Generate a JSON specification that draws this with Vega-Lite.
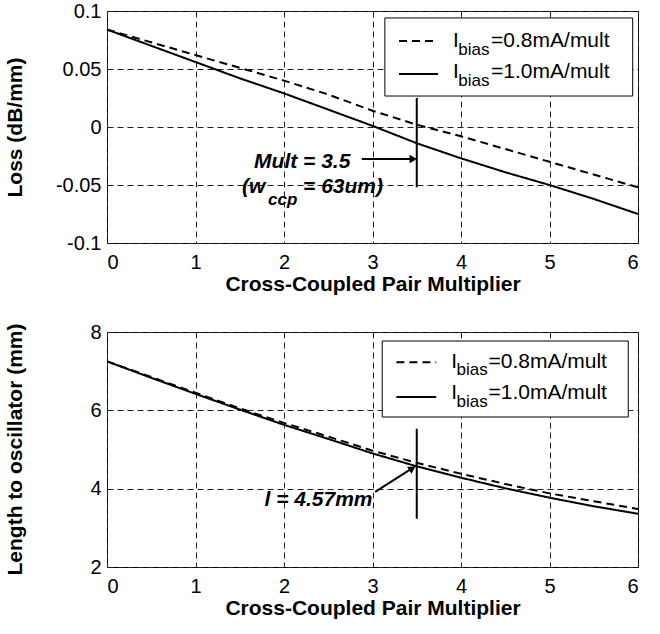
{
  "$schema": "https://vega.github.io/schema/vega-lite/v6.json",
  "padding": {"left": 3, "top": 0, "right": 5, "bottom": 2},
  "config": {
    "font": "Arial, Liberation Sans, sans-serif",
    "view": {"stroke": "black", "strokeWidth": 1},
    "text": {"font": "Arial, Liberation Sans, sans-serif"},
    "axis": {
      "labelFont": "Arial, Liberation Sans, sans-serif", "labelFontSize": 20, "labelColor": "black",
      "titleFont": "Arial, Liberation Sans, sans-serif", "titleFontSize": 21, "titleFontWeight": "bold", "titleColor": "black",
      "domain": false, "ticks": false, "grid": true, "gridColor": "#222", "gridDash": [6, 4], "gridOpacity": 1, "gridWidth": 1
    },
    "concat": {"spacing": 26}
  },
  "datasets": {
    "loss": [
      {"mult": 0, "value": 0.084, "bias": "0.8"}, {"mult": 0.5, "value": 0.073, "bias": "0.8"}, {"mult": 1, "value": 0.062, "bias": "0.8"},
      {"mult": 1.5, "value": 0.051, "bias": "0.8"}, {"mult": 2, "value": 0.040, "bias": "0.8"}, {"mult": 2.5, "value": 0.028, "bias": "0.8"},
      {"mult": 3, "value": 0.014, "bias": "0.8"}, {"mult": 3.5, "value": 0.002, "bias": "0.8"}, {"mult": 4, "value": -0.008, "bias": "0.8"},
      {"mult": 4.5, "value": -0.019, "bias": "0.8"}, {"mult": 5, "value": -0.030, "bias": "0.8"}, {"mult": 5.5, "value": -0.041, "bias": "0.8"},
      {"mult": 6, "value": -0.052, "bias": "0.8"},
      {"mult": 0, "value": 0.084, "bias": "1.0"}, {"mult": 0.5, "value": 0.070, "bias": "1.0"}, {"mult": 1, "value": 0.056, "bias": "1.0"},
      {"mult": 1.5, "value": 0.042, "bias": "1.0"}, {"mult": 2, "value": 0.029, "bias": "1.0"}, {"mult": 2.5, "value": 0.015, "bias": "1.0"},
      {"mult": 3, "value": 0.001, "bias": "1.0"}, {"mult": 3.5, "value": -0.014, "bias": "1.0"}, {"mult": 4, "value": -0.027, "bias": "1.0"},
      {"mult": 4.5, "value": -0.039, "bias": "1.0"}, {"mult": 5, "value": -0.050, "bias": "1.0"}, {"mult": 5.5, "value": -0.062, "bias": "1.0"},
      {"mult": 6, "value": -0.075, "bias": "1.0"}
    ],
    "len": [
      {"mult": 0, "value": 7.25, "bias": "0.8"}, {"mult": 0.5, "value": 6.85, "bias": "0.8"}, {"mult": 1, "value": 6.45, "bias": "0.8"},
      {"mult": 1.5, "value": 6.05, "bias": "0.8"}, {"mult": 2, "value": 5.68, "bias": "0.8"}, {"mult": 2.5, "value": 5.33, "bias": "0.8"},
      {"mult": 3, "value": 4.97, "bias": "0.8"}, {"mult": 3.5, "value": 4.66, "bias": "0.8"}, {"mult": 4, "value": 4.38, "bias": "0.8"},
      {"mult": 4.5, "value": 4.12, "bias": "0.8"}, {"mult": 5, "value": 3.88, "bias": "0.8"}, {"mult": 5.5, "value": 3.68, "bias": "0.8"},
      {"mult": 6, "value": 3.48, "bias": "0.8"},
      {"mult": 0, "value": 7.25, "bias": "1.0"}, {"mult": 0.5, "value": 6.83, "bias": "1.0"}, {"mult": 1, "value": 6.42, "bias": "1.0"},
      {"mult": 1.5, "value": 6.02, "bias": "1.0"}, {"mult": 2, "value": 5.63, "bias": "1.0"}, {"mult": 2.5, "value": 5.27, "bias": "1.0"},
      {"mult": 3, "value": 4.90, "bias": "1.0"}, {"mult": 3.5, "value": 4.57, "bias": "1.0"}, {"mult": 4, "value": 4.28, "bias": "1.0"},
      {"mult": 4.5, "value": 4.01, "bias": "1.0"}, {"mult": 5, "value": 3.77, "bias": "1.0"}, {"mult": 5.5, "value": 3.55, "bias": "1.0"},
      {"mult": 6, "value": 3.36, "bias": "1.0"}
    ]
  },
  "vconcat": [
    {
      "width": 531,
      "height": 232,
      "data": {"values": [{}]},
      "layer": [
        {
          "data": {"name": "loss"},
          "mark": {"type": "line", "color": "black", "strokeWidth": 2},
          "encoding": {
            "x": {"field": "mult", "type": "quantitative", "scale": {"domain": [0, 6], "nice": false},
                  "axis": {"values": [0, 1, 2, 3, 4, 5, 6], "labelExpr": "toString(datum.value)", "title": "Cross-Coupled Pair Multiplier", "labelPadding": 9, "titlePadding": 1}},
            "y": {"field": "value", "type": "quantitative", "scale": {"domain": [-0.1, 0.1], "nice": false, "zero": false},
                  "axis": {"values": [-0.1, -0.05, 0, 0.05, 0.1], "labelExpr": "toString(datum.value)", "labelPadding": 6,
                           "title": "Loss (dB/mm)", "titleX": -92, "titleY": 116, "titleAngle": -90, "titleAlign": "center", "titleBaseline": "middle"}},
            "strokeDash": {"field": "bias", "type": "nominal", "scale": {"domain": ["0.8", "1.0"], "range": [[8, 5], [1, 0]]}, "legend": null}
          }
        },
        {
          "mark": {"type": "rule", "color": "black", "strokeWidth": 2},
          "encoding": {"x": {"datum": 3.5, "type": "quantitative"}, "y": {"datum": 0.025, "type": "quantitative"}, "y2": {"datum": -0.052}}
        },
        {
          "mark": {"type": "rule", "color": "black", "strokeWidth": 2},
          "encoding": {"x": {"datum": 2.88, "type": "quantitative"}, "x2": {"datum": 3.43}, "y": {"datum": -0.0276, "type": "quantitative"}}
        },
        {
          "mark": {"type": "point", "shape": "triangle-right", "filled": true, "color": "black", "opacity": 1, "size": 70},
          "encoding": {"x": {"datum": 3.46, "type": "quantitative"}, "y": {"datum": -0.0276, "type": "quantitative"}}
        },
        {
          "mark": {"type": "text", "text": "Mult = 3.5", "fontSize": 21, "fontWeight": "bold", "fontStyle": "italic", "align": "right", "baseline": "middle", "color": "black"},
          "encoding": {"x": {"datum": 2.75, "type": "quantitative"}, "y": {"datum": -0.030, "type": "quantitative"}}
        },
        {
          "mark": {"type": "text", "text": "(w", "fontSize": 21, "fontWeight": "bold", "fontStyle": "italic", "align": "left", "baseline": "middle", "color": "black"},
          "encoding": {"x": {"datum": 1.525, "type": "quantitative"}, "y": {"datum": -0.0517, "type": "quantitative"}}
        },
        {
          "mark": {"type": "text", "text": "ccp", "fontSize": 17, "fontWeight": "bold", "fontStyle": "italic", "align": "left", "baseline": "middle", "color": "black"},
          "encoding": {"x": {"datum": 1.82, "type": "quantitative"}, "y": {"datum": -0.063, "type": "quantitative"}}
        },
        {
          "mark": {"type": "text", "text": "= 63um)", "fontSize": 21, "fontWeight": "bold", "fontStyle": "italic", "align": "left", "baseline": "middle", "color": "black"},
          "encoding": {"x": {"datum": 2.215, "type": "quantitative"}, "y": {"datum": -0.0517, "type": "quantitative"}}
        },
        {
          "mark": {"type": "rect", "fill": "white", "stroke": "black", "strokeWidth": 1},
          "encoding": {"x": {"datum": 3.14, "type": "quantitative"}, "x2": {"datum": 5.94}, "y": {"datum": 0.094, "type": "quantitative"}, "y2": {"datum": 0.0267}}
        },
        {
          "mark": {"type": "rule", "color": "black", "strokeWidth": 2, "strokeDash": [8, 5]},
          "encoding": {"x": {"datum": 3.30, "type": "quantitative"}, "x2": {"datum": 3.74}, "y": {"datum": 0.0741, "type": "quantitative"}}
        },
        {
          "mark": {"type": "rule", "color": "black", "strokeWidth": 2},
          "encoding": {"x": {"datum": 3.30, "type": "quantitative"}, "x2": {"datum": 3.74}, "y": {"datum": 0.0457, "type": "quantitative"}}
        },
        {
          "mark": {"type": "text", "text": "I", "fontSize": 21, "align": "left", "baseline": "middle", "color": "black"},
          "encoding": {"x": {"datum": 3.91, "type": "quantitative"}, "y": {"datum": 0.0741, "type": "quantitative"}}
        },
        {
          "mark": {"type": "text", "text": "bias", "fontSize": 17, "align": "left", "baseline": "middle", "color": "black"},
          "encoding": {"x": {"datum": 3.97, "type": "quantitative"}, "y": {"datum": 0.0665, "type": "quantitative"}}
        },
        {
          "mark": {"type": "text", "text": "=0.8mA/mult", "fontSize": 21, "align": "left", "baseline": "middle", "color": "black"},
          "encoding": {"x": {"datum": 4.34, "type": "quantitative"}, "y": {"datum": 0.0741, "type": "quantitative"}}
        },
        {
          "mark": {"type": "text", "text": "I", "fontSize": 21, "align": "left", "baseline": "middle", "color": "black"},
          "encoding": {"x": {"datum": 3.91, "type": "quantitative"}, "y": {"datum": 0.0474, "type": "quantitative"}}
        },
        {
          "mark": {"type": "text", "text": "bias", "fontSize": 17, "align": "left", "baseline": "middle", "color": "black"},
          "encoding": {"x": {"datum": 3.97, "type": "quantitative"}, "y": {"datum": 0.0398, "type": "quantitative"}}
        },
        {
          "mark": {"type": "text", "text": "=1.0mA/mult", "fontSize": 21, "align": "left", "baseline": "middle", "color": "black"},
          "encoding": {"x": {"datum": 4.34, "type": "quantitative"}, "y": {"datum": 0.0474, "type": "quantitative"}}
        }
      ]
    },
    {
      "width": 531,
      "height": 235,
      "data": {"values": [{}]},
      "layer": [
        {
          "data": {"name": "len"},
          "mark": {"type": "line", "color": "black", "strokeWidth": 2},
          "encoding": {
            "x": {"field": "mult", "type": "quantitative", "scale": {"domain": [0, 6], "nice": false},
                  "axis": {"values": [0, 1, 2, 3, 4, 5, 6], "labelExpr": "toString(datum.value)", "title": "Cross-Coupled Pair Multiplier", "labelPadding": 9, "titlePadding": 1}},
            "y": {"field": "value", "type": "quantitative", "scale": {"domain": [2, 8], "nice": false, "zero": false},
                  "axis": {"values": [2, 4, 6, 8], "labelExpr": "toString(datum.value)", "labelPadding": 6,
                           "title": "Length to oscillator (mm)", "titleX": -92, "titleY": 117, "titleAngle": -90, "titleAlign": "center", "titleBaseline": "middle"}},
            "strokeDash": {"field": "bias", "type": "nominal", "scale": {"domain": ["0.8", "1.0"], "range": [[8, 5], [1, 0]]}, "legend": null}
          }
        },
        {
          "mark": {"type": "rule", "color": "black", "strokeWidth": 2},
          "encoding": {"x": {"datum": 3.5, "type": "quantitative"}, "y": {"datum": 5.53, "type": "quantitative"}, "y2": {"datum": 3.23}}
        },
        {
          "mark": {"type": "rule", "color": "black", "strokeWidth": 2},
          "encoding": {"x": {"datum": 3.03, "type": "quantitative"}, "x2": {"datum": 3.42}, "y": {"datum": 3.92, "type": "quantitative"}, "y2": {"datum": 4.48}}
        },
        {
          "mark": {"type": "point", "shape": "triangle-up", "angle": 58, "filled": true, "color": "black", "opacity": 1, "size": 70},
          "encoding": {"x": {"datum": 3.45, "type": "quantitative"}, "y": {"datum": 4.52, "type": "quantitative"}}
        },
        {
          "mark": {"type": "text", "text": "l = 4.57mm", "fontSize": 21, "fontWeight": "bold", "fontStyle": "italic", "align": "right", "baseline": "middle", "color": "black"},
          "encoding": {"x": {"datum": 3.0, "type": "quantitative"}, "y": {"datum": 3.71, "type": "quantitative"}}
        },
        {
          "mark": {"type": "rect", "fill": "white", "stroke": "black", "strokeWidth": 1},
          "encoding": {"x": {"datum": 3.11, "type": "quantitative"}, "x2": {"datum": 5.89}, "y": {"datum": 7.77, "type": "quantitative"}, "y2": {"datum": 5.83}}
        },
        {
          "mark": {"type": "rule", "color": "black", "strokeWidth": 2, "strokeDash": [8, 5]},
          "encoding": {"x": {"datum": 3.27, "type": "quantitative"}, "x2": {"datum": 3.72}, "y": {"datum": 7.23, "type": "quantitative"}}
        },
        {
          "mark": {"type": "rule", "color": "black", "strokeWidth": 2},
          "encoding": {"x": {"datum": 3.27, "type": "quantitative"}, "x2": {"datum": 3.72}, "y": {"datum": 6.34, "type": "quantitative"}}
        },
        {
          "mark": {"type": "text", "text": "I", "fontSize": 21, "align": "left", "baseline": "middle", "color": "black"},
          "encoding": {"x": {"datum": 3.89, "type": "quantitative"}, "y": {"datum": 7.23, "type": "quantitative"}}
        },
        {
          "mark": {"type": "text", "text": "bias", "fontSize": 17, "align": "left", "baseline": "middle", "color": "black"},
          "encoding": {"x": {"datum": 3.95, "type": "quantitative"}, "y": {"datum": 7.02, "type": "quantitative"}}
        },
        {
          "mark": {"type": "text", "text": "=0.8mA/mult", "fontSize": 21, "align": "left", "baseline": "middle", "color": "black"},
          "encoding": {"x": {"datum": 4.31, "type": "quantitative"}, "y": {"datum": 7.23, "type": "quantitative"}}
        },
        {
          "mark": {"type": "text", "text": "I", "fontSize": 21, "align": "left", "baseline": "middle", "color": "black"},
          "encoding": {"x": {"datum": 3.89, "type": "quantitative"}, "y": {"datum": 6.44, "type": "quantitative"}}
        },
        {
          "mark": {"type": "text", "text": "bias", "fontSize": 17, "align": "left", "baseline": "middle", "color": "black"},
          "encoding": {"x": {"datum": 3.95, "type": "quantitative"}, "y": {"datum": 6.22, "type": "quantitative"}}
        },
        {
          "mark": {"type": "text", "text": "=1.0mA/mult", "fontSize": 21, "align": "left", "baseline": "middle", "color": "black"},
          "encoding": {"x": {"datum": 4.31, "type": "quantitative"}, "y": {"datum": 6.44, "type": "quantitative"}}
        }
      ]
    }
  ]
}
